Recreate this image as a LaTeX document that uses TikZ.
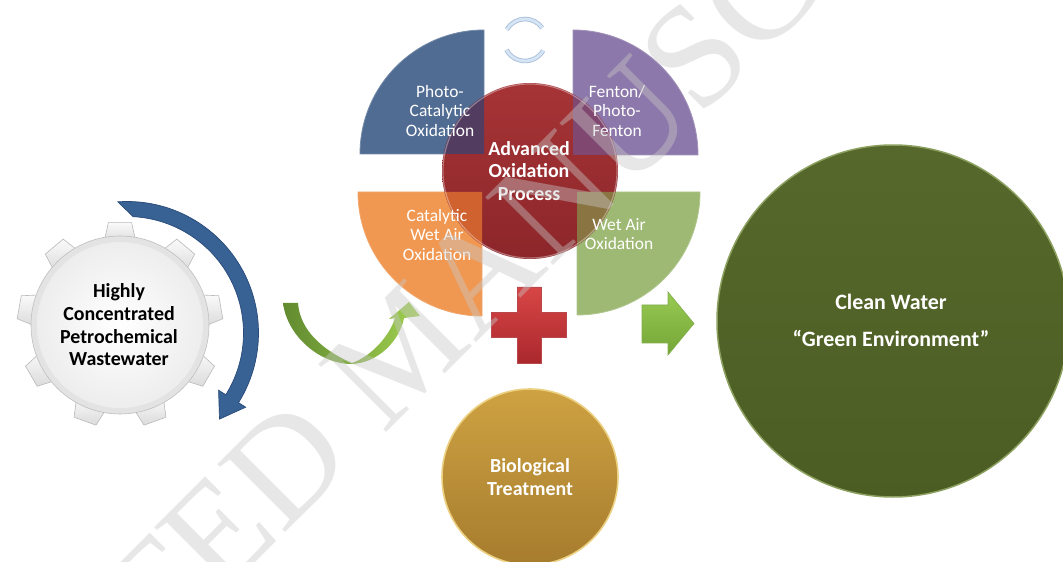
\documentclass[tikz,border=0pt]{standalone}
\usepackage{fontspec}
\setmainfont{Carlito}
\newfontfamily\wmfont{Liberation Serif}
\definecolor{qblue}{RGB}{80,108,146}
\definecolor{qpurple}{RGB}{140,120,170}
\definecolor{qorange}{RGB}{240,152,82}
\definecolor{qgreen}{RGB}{158,185,115}
\definecolor{blueov}{RGB}{82,60,96}
\definecolor{purpleov}{RGB}{128,72,112}
\definecolor{orangeov}{RGB}{208,98,48}
\definecolor{greenov}{RGB}{138,116,66}
\definecolor{aoptop}{RGB}{166,52,54}
\definecolor{aopbot}{RGB}{140,38,42}
\definecolor{arrowblue}{RGB}{56,97,148}
\definecolor{arrowblueedge}{RGB}{40,74,120}
\definecolor{ugreenL}{RGB}{98,138,48}
\definecolor{ugreenR}{RGB}{160,208,78}
\definecolor{plustop}{RGB}{216,70,70}
\definecolor{plusbot}{RGB}{170,40,45}
\definecolor{rgreenT}{RGB}{152,202,82}
\definecolor{rgreenB}{RGB}{116,165,56}
\definecolor{goldT}{RGB}{206,162,66}
\definecolor{goldB}{RGB}{166,124,46}
\definecolor{goldrim}{RGB}{236,208,130}
\definecolor{cleanT}{RGB}{86,104,43}
\definecolor{cleanB}{RGB}{76,93,36}
\definecolor{cleanrim}{RGB}{140,160,95}
\definecolor{cyclelight}{RGB}{214,229,245}
\definecolor{cycleedge}{RGB}{170,192,218}
\definecolor{wmgray}{RGB}{200,200,200}
\begin{document}
\begin{tikzpicture}[x=1bp,y=1bp,
  lbl/.style={text=white, align=center, font=\fontsize{17.5}{19.3}\selectfont, inner sep=0pt},
  boldlbl/.style={align=center, font=\bfseries\fontsize{20}{23}\selectfont, inner sep=0pt},
  quadedge/.style={line width=0.8pt},
  blueq/.style={insert path={(484,-154) -- ++(-124,0) arc[start angle=180,end angle=90,radius=124] -- cycle}},
  purpleq/.style={insert path={(573,-155) -- ++(0,125) arc[start angle=90,end angle=0,radius=125] -- cycle}},
  orangeq/.style={insert path={(482,-192) -- ++(0,-124) arc[start angle=270,end angle=180,radius=124] -- cycle}},
  greenq/.style={insert path={(577,-192) -- ++(123,0) arc[start angle=0,end angle=-90,radius=123] -- cycle}},
]
\useasboundingbox (0,-562) rectangle (1063,0);
\fill[white] (0,-562) rectangle (1063,0);

% ---------- small cycle icon ----------
\draw[cycleedge, line width=4.6pt] (525,-40) ++(150:21) arc[start angle=150,end angle=35,radius=21];
\draw[cyclelight, line width=2.8pt] (525,-40) ++(150:21) arc[start angle=150,end angle=35,radius=21];
\draw[cycleedge, line width=4.6pt] (525,-40) ++(208:21) arc[start angle=208,end angle=330,radius=21];
\draw[cyclelight, line width=2.8pt] (525,-40) ++(208:21) arc[start angle=208,end angle=330,radius=21];

% ---------- quadrants ----------
\path[fill=qblue, draw=qblue!80!white, quadedge, blueq];
\path[fill=qpurple, draw=qpurple!80!white, quadedge, purpleq];
\path[fill=qorange, draw=qorange!85!white, quadedge, orangeq];
\path[fill=qgreen, draw=qgreen!80!white, quadedge, greenq];

% ---------- AOP circle ----------
\path[top color=aoptop, bottom color=aopbot] (530,-171) circle[radius=88];
\begin{scope}
  \clip (530,-171) circle[radius=88];
  \path[fill=blueov, blueq];
  \path[fill=purpleov, purpleq];
  \path[fill=orangeov, orangeq];
  \path[fill=greenov, greenq];
\end{scope}
\draw[white, opacity=0.35, line width=1.2pt] (530,-171) circle[radius=87];

% ---------- quadrant and AOP labels ----------
\node[lbl] (pco) at (440,-111) {Photo-\\Catalytic\\Oxidation};
\node[lbl] (fen) at (617,-111) {Fenton/\\Photo-\\Fenton};
\node[lbl] (cwao) at (437,-235) {Catalytic\\Wet Air\\Oxidation};
\node[lbl] (wao) at (619,-234) {Wet Air\\Oxidation};
\node[boldlbl, text=white] (aop) at (529,-171) {Advanced\\Oxidation\\Process};

% ---------- gear ----------
\begin{scope}[shift={(120,-325)}]
  \foreach \a in {90,130,...,410} {
    \path[top color=gray!4, bottom color=gray!28, draw=gray!55, line width=0.6pt]
      (\a-11:84) -- (\a-6.5:103) -- (\a+6.5:103) -- (\a+11:84) -- cycle;
  }
  \path[fill=gray!22, draw=gray!50, line width=0.6pt] (0,0) circle[radius=89];
  \shade[inner color=white, outer color=gray!14] (0,0) circle[radius=83];
\end{scope}
\node[boldlbl, text=black, font=\bfseries\fontsize{20}{22.7}\selectfont] (ww) at (119,-325) {Highly\\Concentrated\\Petrochemical\\Wastewater};

% ---------- blue circular arrow ----------
\begin{scope}[shift={(127,-333)}]
  \path[fill=arrowblue, draw=arrowblueedge, line width=0.7pt]
    (94:131.5) arc[start angle=94,end angle=-32,radius=131.5]
    -- (-32:140) -- (92.5,-86.1) -- (-32:108) -- (-32:116.5)
    arc[start angle=-32,end angle=87,radius=116.5] -- cycle;
\end{scope}

% ---------- green U arrow ----------
\path[left color=ugreenL, right color=ugreenR]
  (283,-303) .. controls (287,-335) and (318,-363) .. (350,-364)
  .. controls (378,-364) and (400,-340) .. (404,-318)
  -- (420,-316) -- (409,-302) -- (389,-319) -- (395,-318)
  .. controls (390,-335) and (372,-356) .. (352,-363)
  .. controls (322,-350) and (300,-330) .. (298,-303) -- cycle;

% ---------- red plus ----------
\path[top color=plustop, bottom color=plusbot, draw=plusbot!85!white, line width=0.7pt]
  (517,-287) -- (541,-287) -- (541,-312.5) -- (566.5,-312.5) -- (566.5,-337.5)
  -- (541,-337.5) -- (541,-363) -- (517,-363) -- (517,-337.5) -- (491.5,-337.5)
  -- (491.5,-312.5) -- (517,-312.5) -- cycle;

% ---------- green right arrow ----------
\path[top color=rgreenT, bottom color=rgreenB, draw=rgreenB!90!white, line width=0.6pt]
  (642,-305) -- (668,-305) -- (668,-292) -- (694,-323.5) -- (668,-355)
  -- (668,-343) -- (642,-343) -- cycle;

% ---------- biological treatment ----------
\path[top color=goldT, bottom color=goldB, draw=goldrim, line width=1.6pt] (530,-477) circle[radius=88];
\node[boldlbl, text=white] (bio) at (530,-477) {Biological\\Treatment};

% ---------- clean water ----------
\path[top color=cleanT, bottom color=cleanB, draw=cleanrim, line width=1.5pt] (893,-321) circle[radius=176];
\node[boldlbl, text=white, font=\bfseries\fontsize{22}{26}\selectfont] (cw) at (891,-302) {Clean Water};
\node[boldlbl, text=white, font=\bfseries\fontsize{22}{26}\selectfont] (ge) at (891,-338) {“Green Environment”};

% ---------- watermark ----------
\node[rotate=45, text=wmgray, text opacity=0.42, inner sep=0pt,
      font=\wmfont\fontsize{147}{147}\selectfont] (wm) at (403,-348) {ACCEPTED MANUSCRIPT};
\end{tikzpicture}
\end{document}
